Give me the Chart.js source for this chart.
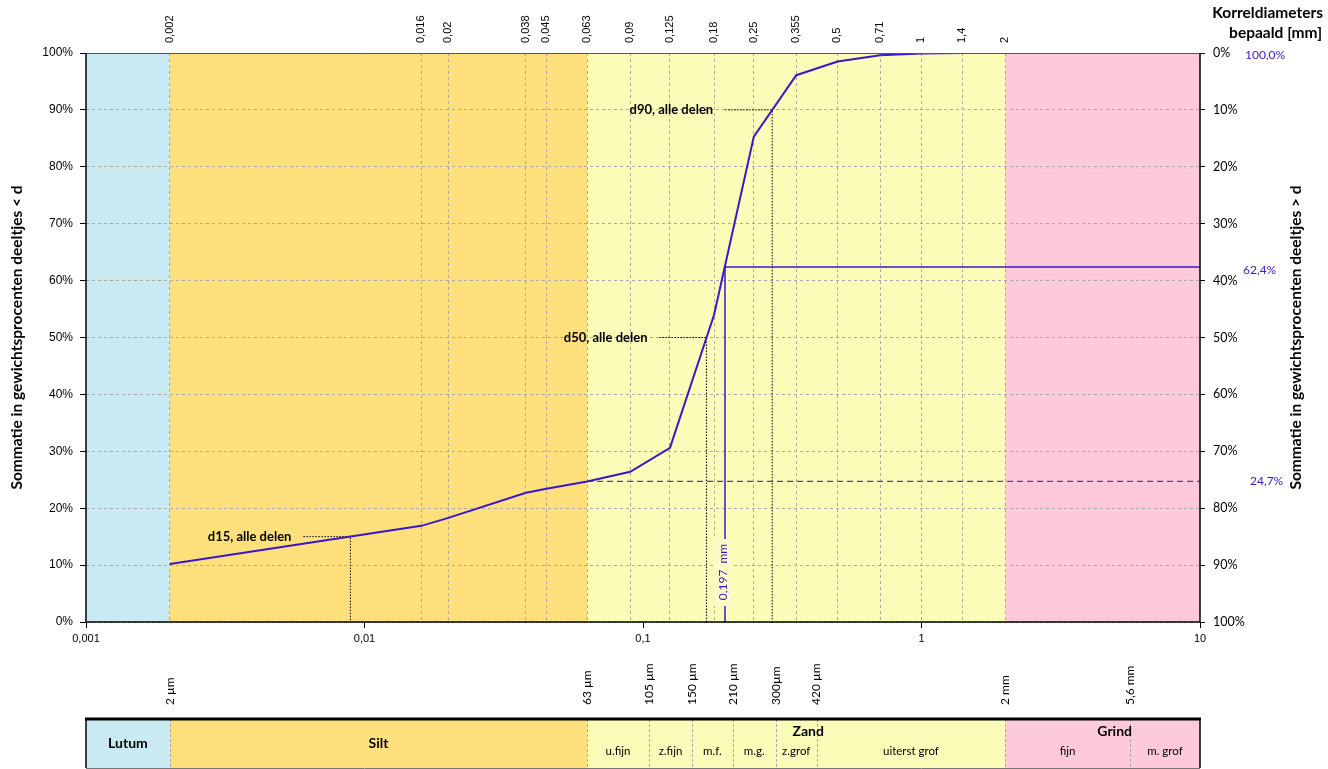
<!DOCTYPE html>
<html>
<head>
<meta charset="utf-8">
<script src="https://cdn.jsdelivr.net/npm/chart.js@4.4.1/dist/chart.umd.min.js"></script>
<style>
  body { margin: 0; background: #fff; }
  #wrap { width: 1328px; height: 769px; }
</style>
</head>
<body>
<div id="wrap"><canvas id="chartGrain"></canvas></div>
<script>
// sieve sizes [mm] and cumulative passing [%]
const sieveSizes = [0.002, 0.016, 0.02, 0.038, 0.045, 0.063, 0.09, 0.125, 0.18, 0.25, 0.355, 0.5, 0.71, 1, 1.4, 2];
const passingPct = [10.2, 16.9, 18.3, 22.7, 23.4, 24.7, 26.4, 30.6, 54.0, 85.3, 96.1, 98.5, 99.6, 99.9, 100, 100];

const decadeTicks = [0.001, 0.01, 0.1, 1, 10];
const pctTicks = [0, 10, 20, 30, 40, 50, 60, 70, 80, 90, 100];

const medianSize = 0.197;
const medianPct = 62.4;
const finesSize = 0.063;
const finesPct = 24.7;
const totalPct = 100.0;

const dNames = ["d15, alle delen", "d50, alle delen", "d90, alle delen"];
const dSizes = [0.0089, 0.169, 0.291];
const dPcts = [15, 50, 90];

// soil classes
const mainEdges = [0.001, 0.002, 0.063, 2, 10];
const mainNames = ["Lutum", "Silt", "Zand", "Grind"];
const mainColors = ["#c9eaf3", "#fde07c", "#fbfcb8", "#fecadb"];
const subEdges = [0.063, 0.105, 0.15, 0.21, 0.3, 0.42, 2, 5.6, 10];
const subNames = ["u.fijn", "z.fijn", "m.f.", "m.g.", "z.grof", "uiterst grof", "fijn", "m. grof"];
const boundarySizes = [0.002, 0.063, 0.105, 0.15, 0.21, 0.3, 0.42, 2, 5.6];
const boundaryLabels = ["2 µm", "63 µm", "105 µm", "150 µm", "210 µm", "300µm", "420 µm", "2 mm", "5,6 mm"];

const BLUE = "#3a17cc";
const fmt = v => String(v).replace(".", ",");
const pctFmt = v => v.toFixed(1).replace(".", ",") + "%";

const decor = {
  id: "decor",
  beforeDraw(chart) {
    const { ctx, chartArea: a, scales: { x } } = chart;
    ctx.save();
    for (let i = 0; i < mainColors.length; i++) {
      const x0 = x.getPixelForValue(mainEdges[i]);
      const x1 = x.getPixelForValue(mainEdges[i + 1]);
      ctx.fillStyle = mainColors[i];
      ctx.fillRect(x0, a.top, x1 - x0, a.bottom - a.top);
    }
    ctx.restore();
  },
  beforeDatasetsDraw(chart) {
    const { ctx, scales: { x, y } } = chart;
    ctx.save();
    ctx.strokeStyle = "#000";
    ctx.lineWidth = 1;
    ctx.setLineDash([1.5, 1.5]);
    for (let i = 0; i < dSizes.length; i++) {
      const px = x.getPixelForValue(dSizes[i]);
      const py = y.getPixelForValue(dPcts[i]);
      ctx.beginPath();
      ctx.moveTo(px - 47, py);
      ctx.lineTo(px, py);
      ctx.lineTo(px, y.getPixelForValue(0));
      ctx.stroke();
    }
    ctx.restore();
  },
  afterDatasetsDraw(chart) {
    const { ctx, scales: { x, y } } = chart;
    ctx.save();
    ctx.fillStyle = "#000";
    ctx.font = "bold 13px Lato";
    ctx.textAlign = "right";
    ctx.textBaseline = "middle";
    for (let i = 0; i < dSizes.length; i++) {
      const px = x.getPixelForValue(dSizes[i]);
      const py = y.getPixelForValue(dPcts[i]);
      ctx.fillText(dNames[i], px - 59, py);
    }
    // median label
    const mx = x.getPixelForValue(medianSize);
    ctx.fillStyle = "#fbfcc6";
    ctx.fillRect(mx - 11, 539, 17, 67);
    ctx.translate(mx - 2, 572);
    ctx.rotate(-Math.PI / 2);
    ctx.fillStyle = BLUE;
    ctx.font = "12px Lato";
    ctx.textAlign = "center";
    ctx.fillText(fmt(medianSize) + "  mm", 0, 0);
    ctx.restore();
  },
  afterDraw(chart) {
    const { ctx, chartArea: a, scales: { x, y } } = chart;
    ctx.save();
    // frame
    ctx.strokeStyle = "#555";
    ctx.lineWidth = 1;
    ctx.beginPath();
    ctx.moveTo(a.left, a.top + 0.5);
    ctx.lineTo(a.right, a.top + 0.5);
    ctx.stroke();
    ctx.strokeStyle = "#000";
    ctx.lineWidth = 1.5;
    ctx.beginPath();
    ctx.moveTo(a.left, a.top);
    ctx.lineTo(a.left, a.bottom);
    ctx.lineTo(a.right, a.bottom);
    ctx.lineTo(a.right, a.top);
    ctx.stroke();

    // axis titles
    ctx.fillStyle = "#000";
    ctx.font = "bold 15.5px Lato";
    ctx.textAlign = "center";
    ctx.textBaseline = "middle";
    const cy = (a.top + a.bottom) / 2;
    ctx.save();
    ctx.translate(17, cy);
    ctx.rotate(-Math.PI / 2);
    ctx.fillText("Sommatie in gewichtsprocenten deeltjes < d", 0, 0);
    ctx.restore();
    ctx.save();
    ctx.translate(1296, cy);
    ctx.rotate(-Math.PI / 2);
    ctx.fillText("Sommatie in gewichtsprocenten deeltjes > d", 0, 0);
    ctx.restore();

    ctx.textAlign = "right";
    ctx.fillText("Korreldiameters", 1323, 13);
    ctx.fillText("bepaald [mm]", 1322, 33);

    // blue value labels on the right
    ctx.fillStyle = BLUE;
    ctx.font = "12px Lato";
    ctx.textAlign = "left";
    ctx.fillText(pctFmt(totalPct), 1245, y.getPixelForValue(totalPct) + 2);
    ctx.fillText(pctFmt(medianPct), 1243, y.getPixelForValue(medianPct) + 3);
    ctx.fillText(pctFmt(finesPct), 1250, y.getPixelForValue(finesPct));

    // boundary labels
    ctx.fillStyle = "#000";
    for (let i = 0; i < boundarySizes.length; i++) {
      ctx.save();
      ctx.translate(x.getPixelForValue(boundarySizes[i]), 705);
      ctx.rotate(-Math.PI / 2);
      ctx.textAlign = "left";
      ctx.fillText(boundaryLabels[i], 0, 0);
      ctx.restore();
    }

    // classification table
    const tTop = 719, tBot = 768;
    for (let i = 0; i < mainColors.length; i++) {
      const x0 = x.getPixelForValue(mainEdges[i]);
      const x1 = x.getPixelForValue(mainEdges[i + 1]);
      ctx.fillStyle = mainColors[i];
      ctx.fillRect(x0, tTop, x1 - x0, tBot - tTop);
    }
    ctx.strokeStyle = "#aaa";
    ctx.lineWidth = 1;
    ctx.setLineDash([3, 2]);
    const seps = [0.002].concat(subEdges.slice(0, -1));
    seps.forEach(v => {
      const px = Math.round(x.getPixelForValue(v)) + 0.5;
      ctx.beginPath();
      ctx.moveTo(px, tTop);
      ctx.lineTo(px, tBot);
      ctx.stroke();
    });
    ctx.setLineDash([]);
    ctx.strokeStyle = "#777";
    ctx.beginPath();
    ctx.moveTo(a.left, tBot + 0.5);
    ctx.lineTo(a.right, tBot + 0.5);
    ctx.stroke();
    ctx.strokeStyle = "#000";
    ctx.lineWidth = 1.5;
    ctx.beginPath();
    ctx.moveTo(a.left, tTop);
    ctx.lineTo(a.left, tBot);
    ctx.moveTo(a.right, tTop);
    ctx.lineTo(a.right, tBot);
    ctx.stroke();
    ctx.lineWidth = 3;
    ctx.beginPath();
    ctx.moveTo(a.left - 1, tTop);
    ctx.lineTo(a.right + 1, tTop);
    ctx.stroke();

    ctx.fillStyle = "#000";
    ctx.textAlign = "center";
    ctx.font = "bold 14px Lato";
    for (let i = 0; i < mainNames.length; i++) {
      const x0 = x.getPixelForValue(mainEdges[i]);
      const x1 = x.getPixelForValue(mainEdges[i + 1]);
      if (i < 2) ctx.fillText(mainNames[i], (x0 + x1) / 2, 743);
      else ctx.fillText(mainNames[i], (x0 + x1) / 2 + 12, 731);
    }
    ctx.font = "11.5px Lato";
    for (let i = 0; i < subNames.length; i++) {
      const x0 = x.getPixelForValue(subEdges[i]);
      const x1 = x.getPixelForValue(subEdges[i + 1]);
      ctx.fillText(subNames[i], (x0 + x1) / 2, 751);
    }
    ctx.restore();
  }
};

const curve = sieveSizes.map((s, i) => ({ x: s, y: passingPct[i] }));

new Chart(document.getElementById("chartGrain"), {
  type: "line",
  data: {
    datasets: [
      {
        label: "alle delen",
        data: curve,
        borderColor: BLUE,
        borderWidth: 2,
        pointRadius: 0,
        tension: 0
      },
      {
        label: "mediaan",
        data: [{ x: medianSize, y: 0 }, { x: medianSize, y: medianPct }, { x: 10, y: medianPct }],
        borderColor: BLUE,
        borderWidth: 1.5,
        pointRadius: 0
      },
      {
        label: "fijne delen",
        data: [{ x: finesSize, y: finesPct }, { x: 10, y: finesPct }],
        borderColor: "#5a3aa8",
        borderWidth: 1.2,
        borderDash: [6, 4],
        pointRadius: 0
      }
    ]
  },
  options: {
    responsive: true,
    maintainAspectRatio: false,
    animation: false,
    layout: { padding: 0 },
    plugins: { legend: { display: false }, tooltip: { enabled: false } },
    scales: {
      x: {
        type: "logarithmic",
        position: "bottom",
        min: 0.001,
        max: 10,
        afterBuildTicks: s => { s.ticks = decadeTicks.map(v => ({ value: v })); },
        afterFit: s => { s.height = 147; },
        grid: { drawOnChartArea: false, tickLength: 6, color: "#000" },
        border: { display: false },
        ticks: {
          autoSkip: false, maxRotation: 0, padding: 4,
          color: "#000", font: { family: "Liberation Sans", size: 11 },
          callback: v => fmt(v)
        }
      },
      xTop: {
        type: "logarithmic",
        position: "top",
        min: 0.001,
        max: 10,
        afterBuildTicks: s => { s.ticks = sieveSizes.map(v => ({ value: v })); },
        afterFit: s => { s.height = 53; },
        grid: { color: "#a9a9a9", drawTicks: false },
        border: { display: false, dash: [3, 3] },
        ticks: {
          autoSkip: false, minRotation: 90, maxRotation: 90, padding: 10, labelOffset: 13,
          color: "#000", font: { family: "Liberation Sans", size: 11 },
          callback: v => fmt(v)
        }
      },
      y: {
        position: "left",
        min: 0,
        max: 100,
        afterBuildTicks: s => { s.ticks = pctTicks.map(v => ({ value: v })); },
        afterFit: s => { s.width = 86; },
        grid: { color: "#a9a9a9", tickColor: "#000", tickLength: 6 },
        border: { display: false, dash: [3, 3] },
        ticks: {
          padding: 7, color: "#000",
          font: { family: "Liberation Sans", size: 12 },
          callback: v => v + "%"
        }
      },
      yRight: {
        position: "right",
        min: 0,
        max: 100,
        reverse: true,
        afterBuildTicks: s => { s.ticks = pctTicks.map(v => ({ value: v })); },
        afterFit: s => { s.width = 128; },
        grid: { drawOnChartArea: false, color: "#000", tickLength: 5 },
        border: { display: false },
        ticks: {
          padding: 8, color: "#000",
          font: { family: "Lato", size: 12.5 },
          callback: v => v + "%"
        }
      }
    }
  },
  plugins: [decor]
});
</script>
</body>
</html>
